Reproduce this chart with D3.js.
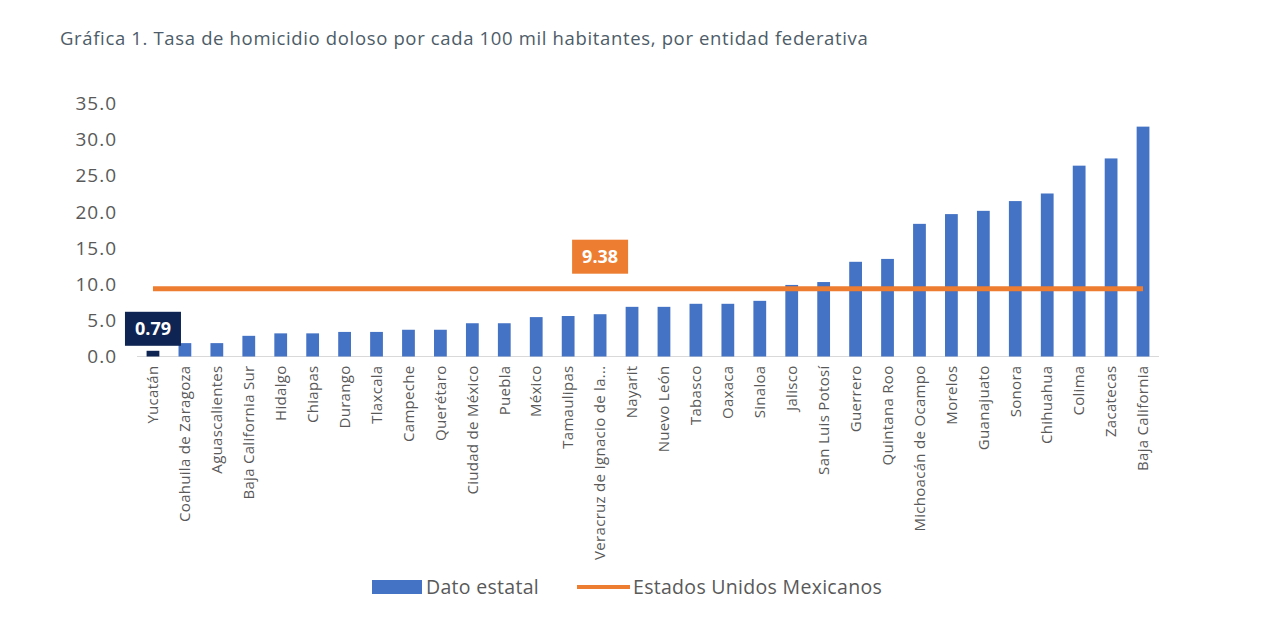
<!DOCTYPE html>
<html>
<head>
<meta charset="utf-8">
<script src="https://cdn.jsdelivr.net/npm/d3@7"></script>
<style>
  body { margin: 0; background: #fff; }
  svg text { font-family: "Open Sans", "Noto Sans", sans-serif; }
</style>
</head>
<body>
<div id="chart"></div>
<script>
// DATA
const states = ["Yucatán", "Coahuila de Zaragoza", "Aguascalientes", "Baja California Sur", "Hidalgo",
  "Chiapas", "Durango", "Tlaxcala", "Campeche", "Querétaro", "Ciudad de México", "Puebla", "México",
  "Tamaulipas", "Veracruz de Ignacio de la...", "Nayarit", "Nuevo León", "Tabasco", "Oaxaca", "Sinaloa",
  "Jalisco", "San Luis Potosí", "Guerrero", "Quintana Roo", "Michoacán de Ocampo", "Morelos",
  "Guanajuato", "Sonora", "Chihuahua", "Colima", "Zacatecas", "Baja California"];
const rates = [0.79, 1.85, 1.85, 2.86, 3.2, 3.2, 3.4, 3.4, 3.7, 3.7, 4.6, 4.6, 5.45, 5.6, 5.85,
  6.87, 6.87, 7.29, 7.29, 7.7, 9.9, 10.3, 13.1, 13.5, 18.35, 19.7, 20.15, 21.5, 22.55, 26.4, 27.4, 31.8];
const nationalRate = 9.38;
const yTicks = [0, 5, 10, 15, 20, 25, 30, 35];
const highlightState = "Yucatán";
const nationalLabelState = "Veracruz de Ignacio de la...";
const legendLabels = ["Dato estatal", "Estados Unidos Mexicanos"];
const title = "Gráfica 1. Tasa de homicidio doloso por cada 100 mil habitantes, por entidad federativa";

// SIZE AND COLORS
const width = 1280, height = 632;
const barColor = "#4472C4", lineColor = "#ED7D31", navy = "#0E2452", textGray = "#595959";

const svg = d3.select("#chart").append("svg")
  .attr("width", width)
  .attr("height", height);

// TITLE
svg.append("text")
  .attr("x", 60)
  .attr("y", 45)
  .attr("fill", "#4d5c68")
  .style("font-size", "18.5px")
  .style("letter-spacing", "0.65px")
  .text(title);

// SCALES
const x = d3.scaleBand()
  .domain(states)
  .range([137, 1159])
  .paddingInner(0.6)
  .paddingOuter(0.3);

const y = d3.scaleLinear()
  .domain([0, 35])
  .range([356.5, 103.5]);

// Y AXIS LABELS
svg.append("g").selectAll("text")
  .data(yTicks)
  .join("text")
  .attr("x", 117)
  .attr("y", d => y(d))
  .attr("dy", "0.35em")
  .attr("text-anchor", "end")
  .attr("fill", textGray)
  .style("font-size", "19px")
  .style("letter-spacing", "1px")
  .text(d => d.toFixed(1));

// BASELINE
svg.append("line")
  .attr("x1", x.range()[0])
  .attr("x2", x.range()[1])
  .attr("y1", y(0))
  .attr("y2", y(0))
  .attr("stroke", "#d9d9d9")
  .attr("stroke-width", 1);

// BARS
svg.append("g").selectAll("rect")
  .data(states)
  .join("rect")
  .attr("x", d => x(d))
  .attr("width", x.bandwidth())
  .attr("y", (d, i) => y(rates[i]))
  .attr("height", (d, i) => y(0) - y(rates[i]))
  .attr("fill", d => d === highlightState ? navy : barColor);

// CATEGORY LABELS
svg.append("g").selectAll("text")
  .data(states)
  .join("text")
  .attr("transform", d => "translate(" + (x(d) + x.bandwidth() / 2) + "," + (y(0) + 9) + ") rotate(-90)")
  .attr("dy", "0.35em")
  .attr("text-anchor", "end")
  .attr("fill", textGray)
  .style("font-size", "15px")
  .style("letter-spacing", "0.3px")
  .text(d => d);

// NATIONAL LINE
const cx = d => x(d) + x.bandwidth() / 2;
svg.append("line")
  .attr("x1", cx(states[0]))
  .attr("x2", cx(states[states.length - 1]))
  .attr("y1", y(nationalRate))
  .attr("y2", y(nationalRate))
  .attr("stroke", lineColor)
  .attr("stroke-width", 5);

// DATA LABEL BOXES
function labelBox(cxPos, cyPos, txt, fill) {
  const g = svg.append("g").attr("transform", "translate(" + cxPos + "," + cyPos + ")");
  g.append("rect")
    .attr("x", -28)
    .attr("y", -17)
    .attr("width", 56)
    .attr("height", 34)
    .attr("fill", fill);
  g.append("text")
    .attr("text-anchor", "middle")
    .attr("dy", "0.35em")
    .attr("fill", "#fff")
    .style("font-size", "18px")
    .style("font-weight", "bold")
    .text(txt);
}
const yucatanIdx = states.indexOf(highlightState);
labelBox(cx(highlightState), y(rates[yucatanIdx]) - 22, rates[yucatanIdx].toFixed(2), navy);
labelBox(cx(nationalLabelState), y(nationalRate) - 32, nationalRate.toFixed(2), lineColor);

// LEGEND
const legend = svg.append("g").attr("transform", "translate(372,587)");
legend.append("rect")
  .attr("x", 0).attr("y", -7)
  .attr("width", 50).attr("height", 14)
  .attr("fill", barColor);
legend.append("text")
  .attr("x", 54).attr("dy", "0.35em")
  .attr("fill", textGray)
  .style("font-size", "19.5px")
  .style("letter-spacing", "0.3px")
  .text(legendLabels[0]);
legend.append("line")
  .attr("x1", 205).attr("x2", 258)
  .attr("stroke", lineColor)
  .attr("stroke-width", 4);
legend.append("text")
  .attr("x", 261).attr("dy", "0.35em")
  .attr("fill", textGray)
  .style("font-size", "19.5px")
  .style("letter-spacing", "0.3px")
  .text(legendLabels[1]);
</script>
</body>
</html>
